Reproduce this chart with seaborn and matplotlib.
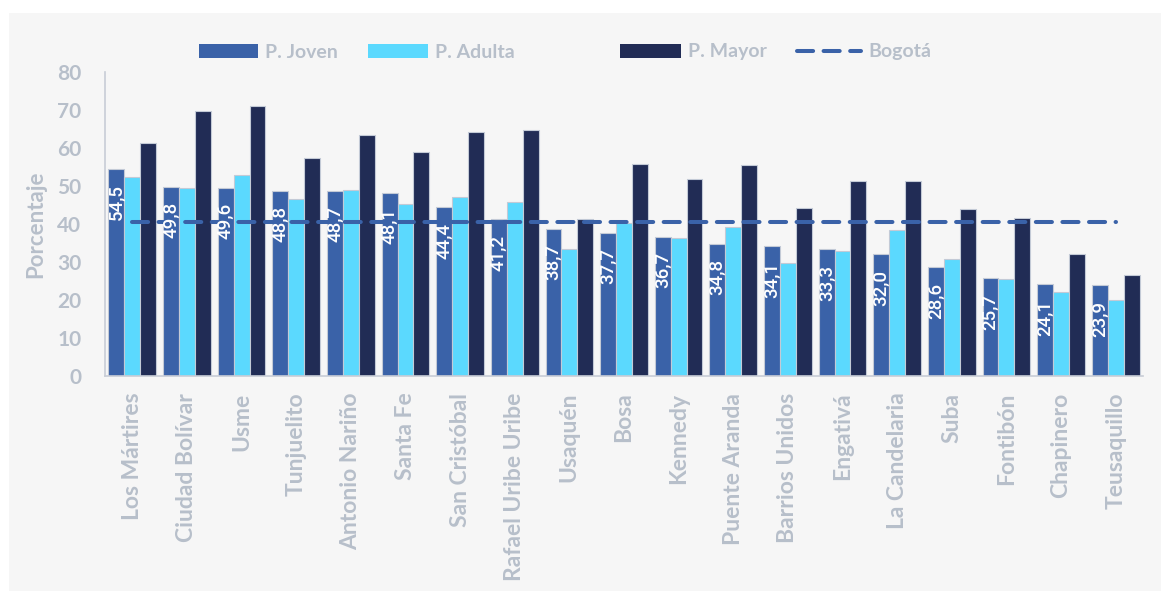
import matplotlib
matplotlib.use("Agg")
import matplotlib.pyplot as plt
from matplotlib.patches import Rectangle, Patch
from matplotlib.lines import Line2D
import numpy as np
import pandas as pd
import seaborn as sns

# Localidades de Bogotá
localidades = ["Los Mártires", "Ciudad Bolívar", "Usme", "Tunjuelito", "Antonio Nariño",
               "Santa Fe", "San Cristóbal", "Rafael Uribe Uribe", "Usaquén", "Bosa",
               "Kennedy", "Puente Aranda", "Barrios Unidos", "Engativá", "La Candelaria",
               "Suba", "Fontibón", "Chapinero", "Teusaquillo"]

joven = [54.5, 49.8, 49.6, 48.8, 48.7, 48.1, 44.4, 41.2, 38.7, 37.7,
         36.7, 34.8, 34.1, 33.3, 32.0, 28.6, 25.7, 24.1, 23.9]
adulta = [52.3, 49.4, 53.0, 46.5, 48.9, 45.3, 47.0, 45.8, 33.3, 40.2,
          36.3, 39.1, 29.7, 32.8, 38.3, 30.9, 25.5, 22.2, 20.0]
mayor = [61.4, 69.7, 71.1, 57.4, 63.3, 59.0, 64.1, 64.7, 41.4, 55.8,
         51.8, 55.6, 44.1, 51.4, 51.2, 44.0, 41.5, 32.1, 26.5]
bogota = 40.5

grupos = ["P. Joven", "P. Adulta", "P. Mayor"]
colores = ["#3a62a8", "#5bd9fe", "#212c55"]
linea_color = "#3a62a8"
gris = "#b7bfca"

df = pd.DataFrame({
    "Localidad": localidades * 3,
    "Grupo": [grupos[0]] * len(localidades) + [grupos[1]] * len(localidades) + [grupos[2]] * len(localidades),
    "Porcentaje": joven + adulta + mayor,
})

sns.set_theme(style="white")
plt.rcParams["font.family"] = ["Lato", "DejaVu Sans"]
plt.rcParams["font.weight"] = "bold"

fig = plt.figure(figsize=(11.61, 5.91), dpi=100, facecolor="white")
fig.patches.append(Rectangle((9 / 1161, 0), 1, 1 - 13 / 591, transform=fig.transFigure,
                             facecolor="#f6f6f6", edgecolor="none", zorder=-10))
ax = fig.add_axes([105 / 1161, 1 - 376 / 591, (1143 - 105) / 1161, (376 - 72) / 591])
ax.set_facecolor("none")

sns.barplot(data=df, x="Localidad", y="Porcentaje", hue="Grupo", hue_order=grupos,
            palette=colores, width=0.872, saturation=1, edgecolor="#c3cad6",
            linewidth=0.8, legend=False, ax=ax, zorder=2)

# Promedio de Bogotá
x_pos = np.arange(len(localidades))
ax.plot(x_pos, [bogota] * len(x_pos), color=linea_color, lw=2.9,
        dashes=(4.0, 2.6), dash_capstyle="round", zorder=3)

# Etiquetas de la población joven
for bar, v in zip(ax.containers[0], joven):
    ax.annotate(f"{v:.1f}".replace(".", ","),
                (bar.get_x() + bar.get_width() / 2, bar.get_height()),
                xytext=(0, -11), textcoords="offset points", rotation=90,
                ha="center", va="top", color="white", fontsize=13.5,
                fontweight="medium", family=["Roboto", "DejaVu Sans"], zorder=4)

ax.set_ylim(0, 80)
ax.set_xlim(-0.5, len(localidades) - 0.5)
ax.set_yticks(range(0, 81, 10))
ax.set_xlabel("")
ax.set_ylabel("Porcentaje", color=gris, fontsize=16, fontweight="bold", labelpad=8)
ax.tick_params(axis="y", length=0, pad=17, labelcolor=gris)
ax.tick_params(axis="x", length=0, pad=12, labelcolor=gris)
plt.setp(ax.get_yticklabels(), fontsize=15, fontweight="bold")
plt.setp(ax.get_xticklabels(), fontsize=16.5, fontweight="bold", rotation=90)

for s in ["top", "right"]:
    ax.spines[s].set_visible(False)
for s in ["left", "bottom"]:
    ax.spines[s].set_color("#c8cdd6")
    ax.spines[s].set_linewidth(1.2)

# Leyenda superior, una entrada por bloque
handles = [Patch(facecolor=c, edgecolor="none", label=g) for c, g in zip(colores, grupos)]
handles.append(Line2D([], [], color=linea_color, lw=2.9, dashes=(4.0, 2.6),
                      dash_capstyle="round", label="Bogotá"))
inicios = [199, 368, 620, 797]
largos = [3.05, 3.1, 3.15, 3.3]
for h, x0, hl in zip(handles, inicios, largos):
    leg = fig.legend(handles=[h], loc="center left", bbox_to_anchor=(x0 / 1161, 1 - 52 / 591),
                     frameon=False, handlelength=hl, handleheight=0.72,
                     handletextpad=0.35, borderpad=0, borderaxespad=0,
                     prop={"weight": "bold", "size": 14})
    for t in leg.get_texts():
        t.set_color(gris)

fig.savefig("out.png", dpi=100, facecolor="white")
